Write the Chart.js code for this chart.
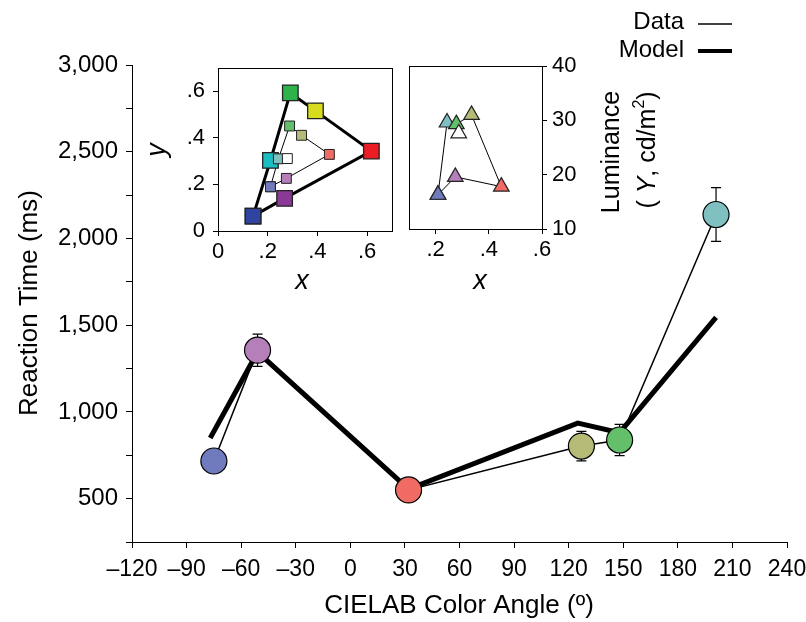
<!DOCTYPE html>
<html><head><meta charset="utf-8">
<script src="https://cdn.jsdelivr.net/npm/chart.js@4/dist/chart.umd.min.js"></script>
<style>
html,body{margin:0;padding:0;background:#fff;}
#wrap{position:relative;width:806px;height:622px;overflow:hidden;}
canvas{position:absolute;}
</style></head><body>
<div id="wrap">
<canvas id="main" width="806" height="622" style="left:0;top:0"></canvas>
<canvas id="ins1" width="250" height="240" style="left:150px;top:55px"></canvas>
<canvas id="ins2" width="200" height="240" style="left:395px;top:55px"></canvas>
</div>
<script>
// ---------- DATA ----------
// Main panel: reaction time vs CIELAB colour angle
const angles      = [-75, -51, 32, 127, 148, 201];
const rtData      = [717, 1356, 550, 803, 838, 2138];
const rtErr       = [40, 93, 40, 85, 90, 155];
const modelAngles = [-77, -51, 32, 125, 148, 201];
const rtModel     = [850, 1345, 555, 935, 880, 1545];
const stimColors  = ['#6f7bbd', '#b57fb9', '#f06b63', '#b5bb77', '#63bf6a', '#7fc0c0'];

const xTicks      = [-120, -90, -60, -30, 0, 30, 60, 90, 120, 150, 180, 210, 240];
const xTickLabels = ['\u2013120', '\u201390', '\u201360', '\u201330', '0', '30', '60', '90', '120', '150', '180', '210', '240'];
const yTicks      = [250, 500, 750, 1000, 1250, 1500, 1750, 2000, 2250, 2500, 2750, 3000];
const yTickLabels = ['', '500', '', '1,000', '', '1,500', '', '2,000', '', '2,500', '', '3,000'];

// Inset 1: CIE xy chromaticity (monitor gamut = large squares, stimuli = small squares)
const gamutX      = [0.141, 0.211, 0.291, 0.392, 0.617, 0.268, 0.141];
const gamutY      = [0.064, 0.303, 0.593, 0.516, 0.343, 0.140, 0.064];
const gamutColors = ['#2e44a0', '#1bbcc2', '#2eb34b', '#d7dc1f', '#ec1c24', '#8a3a96', '#2e44a0'];
const stimX       = [0.211, 0.243, 0.288, 0.336, 0.448, 0.275, 0.211];
const stimY       = [0.190, 0.310, 0.451, 0.411, 0.329, 0.226, 0.190];
const stimXYColors= ['#6f7bbd', '#7fc0c0', '#63bf6a', '#b5bb77', '#f06b63', '#b57fb9', '#6f7bbd'];
const whiteX      = [0.279];
const whiteY      = [0.311];
const ins1Ticks   = [0, 0.2, 0.4, 0.6];
const ins1Labels  = ['0', '.2', '.4', '.6'];

// Inset 2: luminance vs x
const lumX        = [0.209, 0.243, 0.278, 0.335, 0.447, 0.274, 0.209];
const lumY        = [16.3, 29.6, 29.3, 31.0, 17.8, 19.6, 16.3];
const lumWhiteX   = [0.287];
const lumWhiteY   = [27.6];
const ins2XTicks  = [0.2, 0.4, 0.6];
const ins2XLabels = ['.2', '.4', '.6'];
const ins2YTicks  = [10, 20, 30, 40];
const ins2YLabels = ['10', '20', '30', '40'];

// ---------- HELPERS ----------
const FONT = "'Liberation Sans', Arial, Helvetica, sans-serif";
const pts = (xs, ys) => xs.map((v, i) => ({x: v, y: ys[i]}));
const setTicks = arr => s => { s.ticks = arr.map(v => ({value: v})); };
const lab = arr => (v, i) => arr[i];
const fitH = h => s => { s.height = h; s.paddingLeft = 0; s.paddingRight = 0; };
const fitW = w => s => { s.width = w; s.paddingTop = 0; s.paddingBottom = 0; };

function axisOpts(o) {
  return Object.assign({
    type: 'linear',
    grid: {drawOnChartArea: false, color: '#000', tickLength: 5, tickWidth: 1},
    border: {color: '#000', width: 1},
  }, o);
}

const boxPlugin = {
  id: 'box',
  afterDraw(chart) {
    const a = chart.chartArea, ctx = chart.ctx;
    ctx.save();
    ctx.strokeStyle = '#000'; ctx.lineWidth = 1;
    ctx.strokeRect(Math.round(a.left) + 0.5, Math.round(a.top) + 0.5,
                   Math.round(a.right - a.left), Math.round(a.bottom - a.top));
    ctx.restore();
  }
};

const errPlugin = {
  id: 'err',
  beforeDatasetsDraw(chart) {
    const xs = chart.scales.x, ys = chart.scales.y, ctx = chart.ctx;
    ctx.save();
    ctx.strokeStyle = '#000'; ctx.lineWidth = 1.2;
    angles.forEach((a, i) => {
      const x = xs.getPixelForValue(a);
      const y1 = ys.getPixelForValue(rtData[i] + rtErr[i]);
      const y2 = ys.getPixelForValue(rtData[i] - rtErr[i]);
      ctx.beginPath();
      ctx.moveTo(x, y1); ctx.lineTo(x, y2);
      ctx.moveTo(x - 5, y1); ctx.lineTo(x + 5, y1);
      ctx.moveTo(x - 5, y2); ctx.lineTo(x + 5, y2);
      ctx.stroke();
    });
    ctx.restore();
  }
};

function drawText(ctx, s, x, y, font, align, rot) {
  ctx.save();
  ctx.translate(x, y);
  if (rot) ctx.rotate(rot);
  ctx.font = font; ctx.fillStyle = '#000';
  ctx.textAlign = align || 'center'; ctx.textBaseline = 'middle';
  ctx.fillText(s, 0, 0);
  ctx.restore();
}

const textPlugin = {
  id: 'texts',
  afterDraw(chart) {
    const ctx = chart.ctx;
    // axis titles
    drawText(ctx, 'Reaction Time (ms)', 30, 303, '26px ' + FONT, 'center', -Math.PI / 2);
    drawText(ctx, 'CIELAB Color Angle (\u00ba)', 459, 606, '26px ' + FONT, 'center', 0);
    // inset axis titles
    drawText(ctx, 'x', 302, 281, 'italic 27px ' + FONT, 'center', 0);
    drawText(ctx, 'x', 480, 281, 'italic 27px ' + FONT, 'center', 0);
    drawText(ctx, 'y', 157, 150, 'italic 27px ' + FONT, 'center', -Math.PI / 2);
    // legend
    drawText(ctx, 'Data', 684, 22, '24px ' + FONT, 'right', 0);
    drawText(ctx, 'Model', 684, 50, '24px ' + FONT, 'right', 0);
    ctx.save();
    ctx.strokeStyle = '#000';
    ctx.lineWidth = 1.3;
    ctx.beginPath(); ctx.moveTo(698, 24); ctx.lineTo(732, 24); ctx.stroke();
    ctx.lineWidth = 4;
    ctx.beginPath(); ctx.moveTo(698, 51); ctx.lineTo(732, 51); ctx.stroke();
    ctx.restore();
    // luminance title (rotated, two lines)
    drawText(ctx, 'Luminance', 612, 152, '25px ' + FONT, 'center', -Math.PI / 2);
    ctx.save();
    ctx.translate(648, 150);
    ctx.rotate(-Math.PI / 2);
    ctx.fillStyle = '#000'; ctx.textBaseline = 'middle'; ctx.textAlign = 'left';
    const pieces = [
      {t: '( ', f: '25px ' + FONT, dy: 0},
      {t: 'Y', f: 'italic 25px ' + FONT, dy: 0},
      {t: ', cd/m', f: '25px ' + FONT, dy: 0},
      {t: '2', f: '16px ' + FONT, dy: -8},
      {t: ')', f: '25px ' + FONT, dy: 0}
    ];
    let total = 0;
    pieces.forEach(p => { ctx.font = p.f; p.w = ctx.measureText(p.t).width; total += p.w; });
    let cx = -total / 2;
    pieces.forEach(p => { ctx.font = p.f; ctx.fillText(p.t, cx, p.dy); cx += p.w; });
    ctx.restore();
  }
};

// ---------- MAIN CHART ----------
new Chart(document.getElementById('main'), {
  type: 'scatter',
  data: {
    datasets: [
      {label: 'Model', data: pts(modelAngles, rtModel), showLine: true, borderColor: '#000',
       borderWidth: 5, borderJoinStyle: 'miter', pointRadius: 0, order: 3, clip: false},
      {label: 'Data', data: pts(angles, rtData), showLine: true, borderColor: '#000',
       borderWidth: 1.5, pointRadius: 0, order: 2, clip: false},
      {label: 'points', data: pts(angles, rtData), showLine: false, pointRadius: 13,
       pointBackgroundColor: stimColors, pointBorderColor: '#000', pointBorderWidth: 1.2,
       order: 1, clip: false}
    ]
  },
  options: {
    responsive: false, animation: false, devicePixelRatio: 1,
    layout: {autoPadding: false, padding: {left: 0, right: 19, top: 65, bottom: 0}},
    plugins: {legend: {display: false}, tooltip: {enabled: false}},
    scales: {
      x: axisOpts({
        min: -120, max: 240,
        afterBuildTicks: setTicks(xTicks),
        afterFit: fitH(80),
        grid: {drawOnChartArea: false, color: '#000', tickLength: 6, tickWidth: 1},
        ticks: {callback: lab(xTickLabels), font: {family: FONT, size: 23}, color: '#000',
                padding: 8, maxRotation: 0, autoSkip: false}
      }),
      y: axisOpts({
        min: 250, max: 3000,
        afterBuildTicks: setTicks(yTicks),
        afterFit: fitW(132),
        grid: {drawOnChartArea: false, color: '#000', tickLength: 6, tickWidth: 1},
        ticks: {callback: lab(yTickLabels), font: {family: FONT, size: 24}, color: '#000',
                padding: 8, autoSkip: false}
      })
    }
  },
  plugins: [errPlugin, textPlugin]
});

// ---------- INSET 1 ----------
new Chart(document.getElementById('ins1'), {
  type: 'scatter',
  data: {
    datasets: [
      {data: pts(gamutX, gamutY), showLine: true, borderColor: '#000', borderWidth: 3,
       pointRadius: 0, order: 4, clip: false},
      {data: pts(stimX, stimY), showLine: true, borderColor: '#000', borderWidth: 1,
       pointRadius: 0, order: 3, clip: false},
      {data: pts(gamutX, gamutY), showLine: false, pointStyle: 'rect', pointRadius: 11,
       pointBackgroundColor: gamutColors, pointBorderColor: '#222', pointBorderWidth: 1.3,
       order: 2, clip: false},
      {data: pts(stimX, stimY).concat(pts(whiteX, whiteY)), showLine: false, pointStyle: 'rect',
       pointRadius: 7, pointBackgroundColor: stimXYColors.concat(['#ffffff']),
       pointBorderColor: '#222', pointBorderWidth: 1, order: 1, clip: false}
    ]
  },
  options: {
    responsive: false, animation: false, devicePixelRatio: 1,
    layout: {autoPadding: false, padding: {left: 0, right: 8, top: 13, bottom: 0}},
    plugins: {legend: {display: false}, tooltip: {enabled: false}},
    scales: {
      x: axisOpts({
        min: 0, max: 0.7,
        afterBuildTicks: setTicks(ins1Ticks),
        afterFit: fitH(64),
        ticks: {callback: lab(ins1Labels), font: {family: FONT, size: 22}, color: '#000',
                padding: 3, maxRotation: 0, autoSkip: false}
      }),
      y: axisOpts({
        min: 0, max: 0.7,
        afterBuildTicks: setTicks(ins1Ticks),
        afterFit: fitW(68),
        ticks: {callback: lab(ins1Labels), font: {family: FONT, size: 22}, color: '#000',
                padding: 8, autoSkip: false}
      })
    }
  },
  plugins: [boxPlugin]
});

// ---------- INSET 2 ----------
new Chart(document.getElementById('ins2'), {
  type: 'scatter',
  data: {
    datasets: [
      {data: pts(lumX, lumY), showLine: true, borderColor: '#000', borderWidth: 1,
       pointRadius: 0, order: 3, clip: false},
      {data: pts(lumX, lumY).concat(pts(lumWhiteX, lumWhiteY)), showLine: false,
       pointStyle: 'triangle', pointRadius: 9,
       pointBackgroundColor: stimXYColors.concat(['#ffffff']),
       pointBorderColor: '#222', pointBorderWidth: 1.2, order: 1, clip: false}
    ]
  },
  options: {
    responsive: false, animation: false, devicePixelRatio: 1,
    layout: {autoPadding: false, padding: {left: 14, right: 0, top: 11, bottom: 0}},
    plugins: {legend: {display: false}, tooltip: {enabled: false}},
    scales: {
      x: axisOpts({
        min: 0.1, max: 0.6,
        afterBuildTicks: setTicks(ins2XTicks),
        afterFit: fitH(66),
        ticks: {callback: lab(ins2XLabels), font: {family: FONT, size: 22}, color: '#000',
                padding: 3, maxRotation: 0, autoSkip: false}
      }),
      y: axisOpts({
        position: 'right',
        min: 10, max: 40,
        afterBuildTicks: setTicks(ins2YTicks),
        afterFit: fitW(53),
        ticks: {callback: lab(ins2YLabels), font: {family: FONT, size: 22}, color: '#000',
                padding: 5, autoSkip: false}
      })
    }
  },
  plugins: [boxPlugin]
});
</script>
</body></html>
